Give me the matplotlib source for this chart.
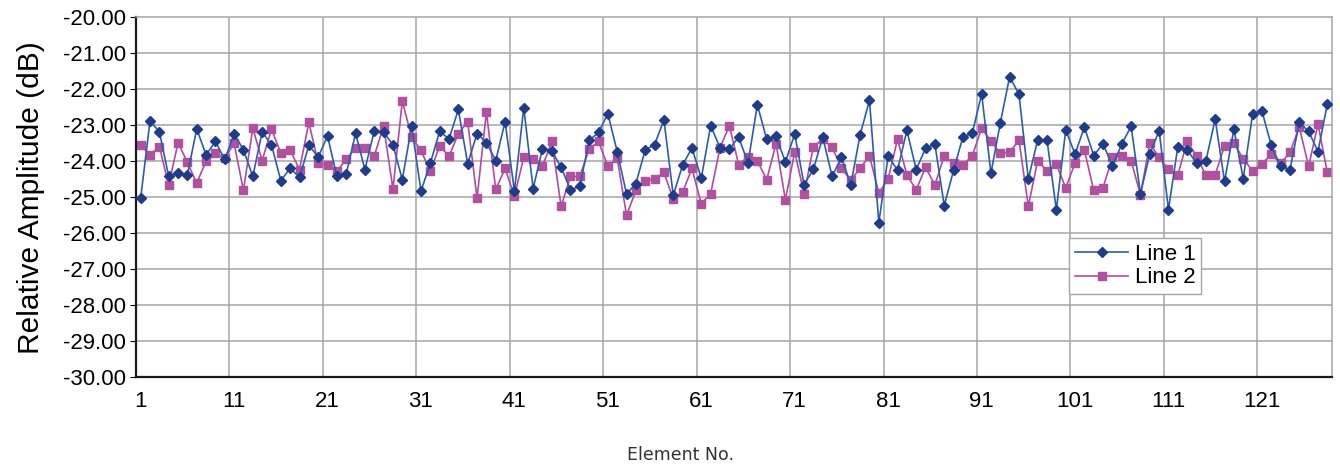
import matplotlib
matplotlib.use("Agg")
import matplotlib.pyplot as plt
import numpy as np

elements = list(range(1, 129))
line1 = [
    -25.02, -22.88, -23.18, -24.42, -24.33, -24.37, -23.10, -23.82, -23.45, -23.95,
    -23.24, -23.68, -24.42, -23.19, -23.54, -24.54, -24.19, -24.45, -23.56, -23.88,
    -23.30, -24.42, -24.35, -23.22, -24.23, -23.15, -23.19, -23.54, -24.51, -23.02,
    -24.83, -24.05, -23.17, -23.38, -22.56, -24.07, -23.23, -23.48, -23.98, -22.90,
    -24.83, -22.51, -24.76, -23.65, -23.71, -24.17, -24.79, -24.70, -23.42, -23.20,
    -22.68, -23.73, -24.91, -24.62, -23.68, -23.54, -22.85, -24.95, -24.10, -23.63,
    -24.47, -23.01, -23.62, -23.66, -23.33, -24.05, -22.43, -23.39, -23.31, -24.02,
    -23.24, -24.65, -24.22, -23.33, -24.42, -23.89, -24.65, -23.26, -22.31, -25.71,
    -23.85, -24.25, -23.14, -24.23, -23.64, -23.52, -25.23, -24.25, -23.32, -23.22,
    -22.13, -24.33, -22.94, -21.65, -22.14, -24.49, -23.41, -23.41, -25.35, -23.13,
    -23.80, -23.05, -23.84, -23.51, -24.14, -23.52, -23.03, -24.90, -23.80, -23.15,
    -25.34, -23.59, -23.68, -24.05, -23.99, -22.83, -24.56, -23.11, -24.48, -22.69,
    -22.60, -23.56, -24.14, -24.23, -22.92, -23.17, -23.73, -22.41,
]
line2 = [
    -23.56, -23.82, -23.59, -24.66, -23.48, -24.03, -24.61, -23.99, -23.78, -23.92,
    -23.50, -24.81, -23.08, -23.98, -23.11, -23.77, -23.69, -24.23, -22.92, -24.05,
    -24.11, -24.28, -23.94, -23.63, -23.63, -23.85, -23.02, -24.77, -22.33, -23.33,
    -23.70, -24.28, -23.57, -23.86, -23.23, -22.90, -25.03, -22.63, -24.78, -24.20,
    -24.97, -23.89, -23.94, -24.14, -23.45, -25.25, -24.42, -24.42, -23.66, -23.45,
    -24.14, -23.91, -25.50, -24.81, -24.54, -24.49, -24.31, -25.05, -24.86, -24.20,
    -25.18, -24.90, -23.63, -23.01, -24.09, -23.87, -23.99, -24.51, -23.51, -25.07,
    -23.73, -24.91, -23.59, -23.39, -23.61, -24.19, -24.53, -24.19, -23.85, -24.88,
    -24.49, -23.39, -24.38, -24.79, -24.17, -24.66, -23.85, -24.06, -24.10, -23.85,
    -23.08, -23.44, -23.78, -23.74, -23.42, -25.25, -23.98, -24.27, -24.08, -24.74,
    -24.05, -23.69, -24.81, -24.73, -23.89, -23.85, -23.98, -24.93, -23.50, -23.89,
    -24.22, -24.38, -23.45, -23.85, -24.39, -24.37, -23.57, -23.50, -23.93, -24.27,
    -24.07, -23.81, -24.06, -23.75, -23.05, -24.14, -22.97, -24.31,
]
series_names = ["Line 1", "Line 2"]
x_tick_labels = [str(v) for v in range(1, 129, 10)]
y_ticks = [-20.0 - i for i in range(11)]

fig = plt.figure(figsize=(13.4, 4.66), dpi=100)
ax = fig.add_axes([136 / 1340, 1 - 377.3 / 466, 1196 / 1340, 360 / 466])

ax.plot(elements, line1, color="#2a5db0", lw=1.2, marker="D", ms=4.6,
        mfc="#1f3c8c", mec="#1f3c8c", label=series_names[0], zorder=3)
ax.plot(elements, line2, color="#b14aa2", lw=1.2, marker="s", ms=6,
        mfc="#b0509e", mec="#b0509e", label=series_names[1], zorder=2)

ax.set_xlim(0.5, 128.5)
ax.set_ylim(-30, -20)
ax.set_yticks(y_ticks)
ax.set_yticklabels([f"{v:.2f}" for v in y_ticks])
ax.set_xticks(range(1, 129, 10))
ax.set_xticklabels(x_tick_labels)

ax.grid(False)
for xv in [10.5 + 10 * k for k in range(12)]:
    ax.axvline(xv, color="#a6a6a6", lw=1.1, zorder=1)
for yv in y_ticks[1:-1]:
    ax.axhline(yv, color="#a6a6a6", lw=1.1, zorder=1)

ax.tick_params(axis="x", which="major", length=0, labelsize=16, pad=10,
               colors="#000000")
ax.tick_params(axis="y", which="major", length=4, labelsize=16, pad=3,
               direction="out", color="#000000")
for lab in ax.get_xticklabels() + ax.get_yticklabels():
    lab.set_fontfamily("Liberation Sans")

for side in ["top", "right"]:
    ax.spines[side].set_color("#a6a6a6")
    ax.spines[side].set_linewidth(1.1)
for side in ["left", "bottom"]:
    ax.spines[side].set_color("#1a1a1a")
    ax.spines[side].set_linewidth(1.6)

ax.set_ylabel("Relative Amplitude (dB)", fontsize=21.5, family="Liberation Sans",
              labelpad=13)

fig.text(681 / 1340, 1 - 455 / 466, "Element No.", ha="center", va="center",
         fontsize=12.5, family="DejaVu Sans", color="#333333")

leg = ax.legend(loc="center", bbox_to_anchor=(0.8355, 0.309), frameon=True,
                fancybox=False, edgecolor="#a6a6a6", framealpha=1,
                prop={"family": "Liberation Sans", "size": 16},
                handlelength=2.4, handletextpad=0.3, labelspacing=0.12,
                borderpad=0.25, borderaxespad=0)
leg.get_frame().set_linewidth(1.0)

fig.savefig("out.png", dpi=100)
